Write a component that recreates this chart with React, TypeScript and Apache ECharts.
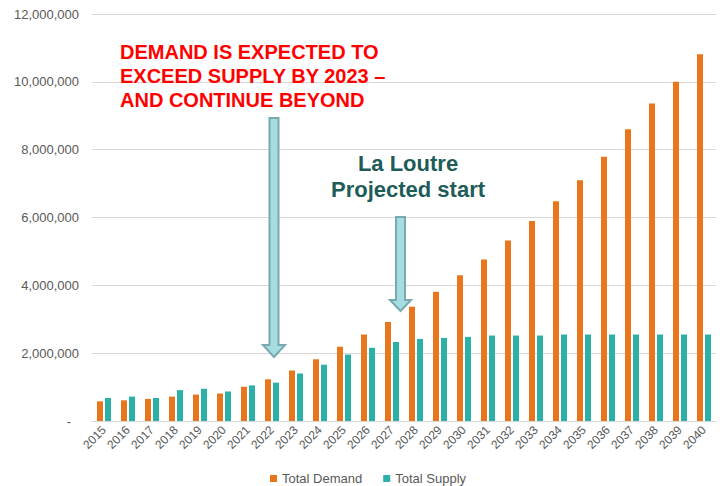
import React, { useEffect, useRef } from "react";
import * as echarts from "echarts";

const years = [
  "2015", "2016", "2017", "2018", "2019", "2020", "2021", "2022", "2023", "2024", "2025", "2026", "2027",
  "2028", "2029", "2030", "2031", "2032", "2033", "2034", "2035", "2036", "2037", "2038", "2039", "2040",
];

const totalDemand = [
  580000, 610000, 650000, 720000, 780000, 810000, 1010000, 1230000, 1490000, 1820000, 2190000, 2550000, 2920000,
  3370000, 3810000, 4300000, 4760000, 5320000, 5900000, 6480000, 7100000, 7790000, 8600000, 9360000, 10000000, 10810000,
];

const totalSupply = [
  680000, 720000, 680000, 910000, 950000, 870000, 1050000, 1130000, 1400000, 1660000, 1960000, 2160000, 2330000,
  2420000, 2450000, 2480000, 2520000, 2520000, 2520000, 2550000, 2550000, 2550000, 2550000, 2550000, 2550000, 2550000,
];

const yTicks = { min: 0, max: 12000000, interval: 2000000 };

const headline = ["DEMAND IS EXPECTED TO", "EXCEED SUPPLY BY 2023 \u2013", "AND CONTINUE BEYOND"];
const projectNote = ["La Loutre", "Projected start"];

const FONT = "'Liberation Sans', Arial, sans-serif";

function arrowPoints(cx: number, top: number, headStart: number, tip: number, shaftHalf: number, headHalf: number) {
  return [
    [cx - shaftHalf, top],
    [cx + shaftHalf, top],
    [cx + shaftHalf, headStart],
    [cx + headHalf, headStart],
    [cx, tip],
    [cx - headHalf, headStart],
    [cx - shaftHalf, headStart],
  ];
}

export default function App() {
  const ref = useRef<HTMLDivElement>(null);

  useEffect(() => {
    if (!ref.current) return;
    const chart = echarts.init(ref.current, undefined, { renderer: "svg" });
    const fmt = (v: number) => (v === 0 ? "{d|-}" : v.toLocaleString("en-US"));
    chart.setOption({
      animation: false,
      backgroundColor: "#ffffff",
      grid: { left: 92, right: 6, top: 14, bottom: 65, containLabel: false },
      legend: {
        left: 270,
        top: 472,
        padding: 0,
        icon: "rect",
        itemWidth: 7,
        itemHeight: 7,
        itemGap: 21,
        textStyle: { color: "#595959", fontSize: 13, fontFamily: FONT },
        data: ["Total Demand", "Total Supply"],
      },
      xAxis: {
        type: "category",
        data: years,
        axisTick: { show: false },
        axisLine: { lineStyle: { color: "#d9d9d9" } },
        axisLabel: {
          rotate: 45,
          interval: 0,
          color: "#595959",
          fontSize: 12,
          fontFamily: FONT,
          margin: 7,
        },
      },
      yAxis: {
        type: "value",
        min: yTicks.min,
        max: yTicks.max,
        interval: yTicks.interval,
        axisLine: { show: false },
        axisTick: { show: false },
        splitLine: { lineStyle: { color: "#d9d9d9", width: 1 } },
        axisLabel: {
          formatter: fmt,
          color: "#595959",
          fontSize: 13,
          fontFamily: FONT,
          margin: 13,
          rich: { d: { color: "#595959", fontSize: 13, fontFamily: FONT, padding: [0, 8, 0, 0] } },
        },
      },
      series: [
        {
          name: "Total Demand",
          type: "bar",
          data: totalDemand,
          barWidth: 6,
          barGap: "33%",
          itemStyle: { color: "#E8761C" },
        },
        {
          name: "Total Supply",
          type: "bar",
          data: totalSupply,
          barWidth: 6,
          barGap: "33%",
          itemStyle: { color: "#2BB1A8" },
        },
      ],
      graphic: [
        {
          type: "polygon",
          shape: { points: arrowPoints(274, 118, 345, 357, 4.5, 11) },
          style: { fill: "#a6dde0", stroke: "#78aaaf", lineWidth: 2 },
          z: 10,
        },
        {
          type: "polygon",
          shape: { points: arrowPoints(400.5, 217, 300, 311, 4.5, 10.5) },
          style: { fill: "#a6dde0", stroke: "#78aaaf", lineWidth: 2 },
          z: 10,
        },
        ...headline.map((t, i) => ({
          type: "text",
          x: 120,
          y: 52 + i * 24,
          z: 10,
          style: {
            text: t,
            fill: "#ff0000",
            font: `bold 20px ${FONT}`,
            textAlign: "left",
            textVerticalAlign: "middle",
          },
        })),
        ...projectNote.map((t, i) => ({
          type: "text",
          x: 408,
          y: 163 + i * 26,
          z: 10,
          style: {
            text: t,
            fill: "#1d5c58",
            font: `bold 22px ${FONT}`,
            textAlign: "center",
            textVerticalAlign: "middle",
          },
        })),
      ],
    });
    return () => chart.dispose();
  }, []);

  return (
    <div
      ref={ref}
      style={{ position: "fixed", left: 0, top: 0, width: 722, height: 486, background: "#fff" }}
    />
  );
}
